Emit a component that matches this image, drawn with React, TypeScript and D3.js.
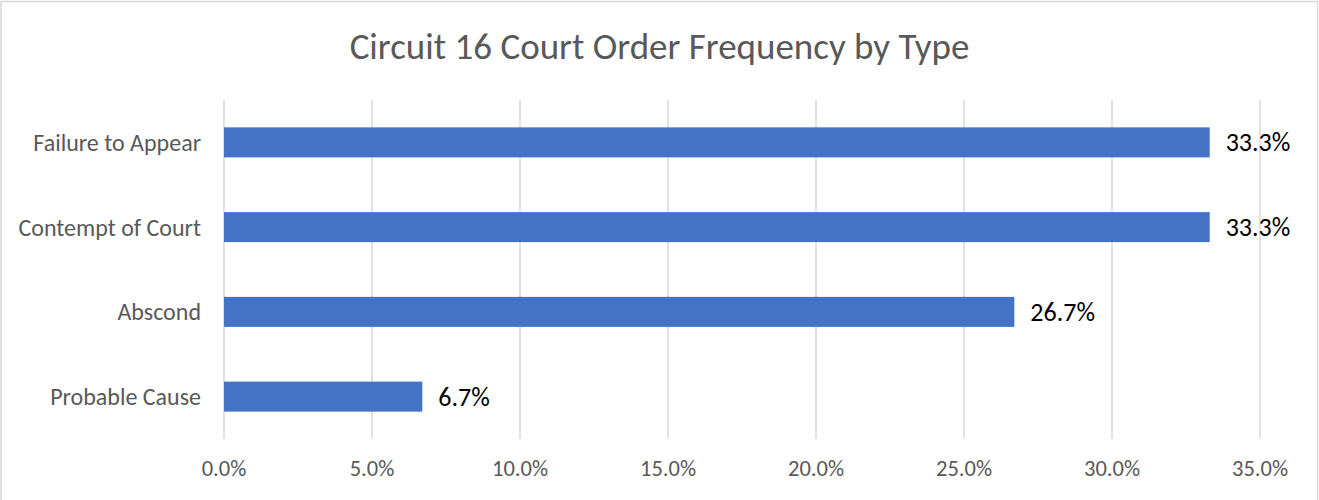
import * as d3 from 'd3';
import React, { useEffect, useRef } from 'react';

const categories = ['Failure to Appear', 'Contempt of Court', 'Abscond', 'Probable Cause'];
const shares = [0.333, 0.333, 0.267, 0.067];
const tickValues = [0, 0.05, 0.1, 0.15, 0.2, 0.25, 0.3, 0.35];

const width = 1319;
const height = 500;
const marginLeft = 224;
const marginRight = 59;
const marginTop = 100;
const marginBottom = 61;
const font = 'Carlito, Calibri, Lato, sans-serif';

const App = () => {
    const svgRef = useRef<SVGSVGElement | null>(null);

    useEffect(() => {
        document.body.style.margin = '0';
        const svg = d3.select(svgRef.current);
        svg.selectAll('*').remove();

        const x = d3
            .scaleLinear()
            .domain([0, 0.35])
            .range([marginLeft, width - marginRight]);

        const y = d3
            .scaleBand()
            .domain(categories)
            .range([marginTop, height - marginBottom])
            .paddingInner(0.646)
            .paddingOuter(0.323);

        // chart border
        svg.append('rect')
            .attr('x', 1)
            .attr('y', 1.5)
            .attr('width', width - 2.5)
            .attr('height', height)
            .attr('fill', '#fff')
            .attr('stroke', '#d9d9d9')
            .attr('stroke-width', 1.5);

        svg.append('text')
            .attr('x', width / 2)
            .attr('y', 59)
            .attr('text-anchor', 'middle')
            .attr('fill', '#595959')
            .attr('font-family', font)
            .attr('font-weight', 300)
            .attr('font-size', 37)
            .text('Circuit 16 Court Order Frequency by Type');

        // gridlines
        svg.append('g')
            .selectAll('line')
            .data(tickValues)
            .join('line')
            .attr('x1', (d) => x(d))
            .attr('x2', (d) => x(d))
            .attr('y1', marginTop)
            .attr('y2', height - marginBottom)
            .attr('stroke', '#d9d9d9')
            .attr('stroke-width', 1.5);

        svg.append('g')
            .selectAll('text')
            .data(tickValues)
            .join('text')
            .attr('x', (d) => x(d))
            .attr('y', 476)
            .attr('text-anchor', 'middle')
            .attr('fill', '#595959')
            .attr('font-family', font)
            .attr('font-size', 22.5)
            .text((d) => d3.format('.1%')(d));

        const rows = categories.map((c, i) => ({ c, v: shares[i] }));

        svg.append('g')
            .selectAll('rect')
            .data(rows)
            .join('rect')
            .attr('x', x(0))
            .attr('y', (d) => y(d.c)!)
            .attr('width', (d) => x(d.v) - x(0))
            .attr('height', y.bandwidth())
            .attr('fill', '#4472c4');

        svg.append('g')
            .selectAll('text')
            .data(rows)
            .join('text')
            .attr('x', marginLeft - 23)
            .attr('y', (d) => y(d.c)! + y.bandwidth() / 2)
            .attr('dy', '0.35em')
            .attr('text-anchor', 'end')
            .attr('fill', '#595959')
            .attr('font-family', font)
            .attr('font-size', 24)
            .text((d) => d.c);

        svg.append('g')
            .selectAll('text')
            .data(rows)
            .join('text')
            .attr('x', (d) => x(d.v) + 16)
            .attr('y', (d) => y(d.c)! + y.bandwidth() / 2)
            .attr('dy', '0.35em')
            .attr('fill', '#000')
            .attr('font-family', font)
            .attr('font-size', 26)
            .text((d) => d3.format('.1%')(d.v));
    }, []);

    return <svg ref={svgRef} width={width} height={height} style={{ display: 'block' }} />;
};

export default App;
